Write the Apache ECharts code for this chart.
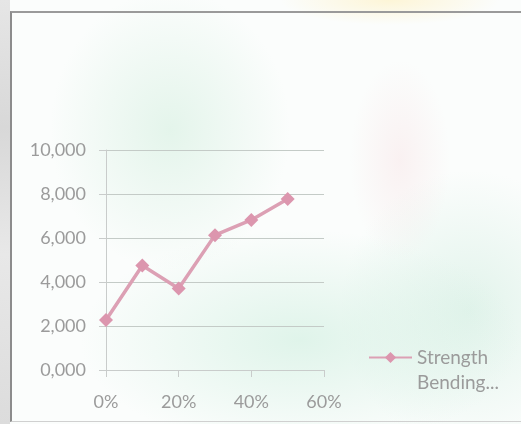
<!DOCTYPE html>
<html>
<head>
<meta charset="utf-8">
<script src="https://cdn.jsdelivr.net/npm/echarts@6/dist/echarts.min.js"></script>
<style>
html,body{margin:0;padding:0;width:521px;height:424px;overflow:hidden;}
body{
  background:
    radial-gradient(ellipse 50px 100px at 400px 160px, rgba(245,205,210,0.25), rgba(255,255,255,0) 100%),
    radial-gradient(ellipse 110px 25px at 390px 0px, rgba(255,240,190,0.6), rgba(255,255,255,0) 100%),
    radial-gradient(ellipse 120px 140px at 170px 130px, rgba(205,236,218,0.5), rgba(255,255,255,0) 100%),
    radial-gradient(ellipse 220px 110px at 300px 340px, rgba(205,238,222,0.6), rgba(255,255,255,0) 100%),
    radial-gradient(ellipse 130px 140px at 470px 310px, rgba(212,238,226,0.65), rgba(255,255,255,0) 100%),
    #fbfdfc;
}
#frame{position:absolute;left:10px;top:11px;width:511px;height:411px;border-left:2px solid #8c8c8c;border-top:2px solid #9a9a9a;border-bottom:1px solid #d0d0d0;box-sizing:border-box;}
#strip{position:absolute;left:0;top:0;width:10px;height:424px;background:linear-gradient(#e6e6e6,#d8d8d8 30%,#e8e8e8 60%,#dcdcdc);}
#chart{position:absolute;left:0;top:0;width:521px;height:424px;}
</style>
</head>
<body>
<div id="strip"></div>
<div id="frame"></div>
<div id="chart"></div>
<script>
var seriesName = 'Strength Bending...';
var legendLines = ['Strength', 'Bending...'];
var xValues = [0, 0.1, 0.2, 0.3, 0.4, 0.5];
var yValues = [2270, 4750, 3700, 6130, 6820, 7770];
var xTicks = [0, 0.2, 0.4, 0.6];
var yTicks = [0, 2000, 4000, 6000, 8000, 10000];

var chart = echarts.init(document.getElementById('chart'), null, {renderer: 'canvas'});
var textColor = '#9b9b9b';
var font = 'Lato';
chart.setOption({
  backgroundColor: 'transparent',
  animation: false,
  grid: {left: 106, right: 197, top: 150, bottom: 54, containLabel: false},
  xAxis: {
    type: 'value', min: xTicks[0], max: xTicks[xTicks.length - 1], interval: 0.2,
    axisLine: {show: true, lineStyle: {color: '#c9cccb', width: 1}},
    axisTick: {show: true, length: 7, lineStyle: {color: '#c9cccb'}},
    splitLine: {show: false},
    axisLabel: {color: textColor, fontFamily: font, fontSize: 18, margin: 23,
      formatter: function (v) { return Math.round(v * 100) + '%'; }}
  },
  yAxis: {
    type: 'value', min: yTicks[0], max: yTicks[yTicks.length - 1], interval: 2000,
    axisLine: {show: true, lineStyle: {color: '#c9cccb', width: 1}},
    axisTick: {show: true, length: 7, lineStyle: {color: '#c9cccb'}},
    splitLine: {show: true, lineStyle: {color: '#c4cbc7', width: 1}},
    axisLabel: {color: textColor, fontFamily: font, fontSize: 18, margin: 20,
      formatter: function (v) { return (v / 1000).toFixed(3).replace('.', ','); }}
  },
  legend: {
    show: true, orient: 'vertical', left: 363, top: 315,
    itemWidth: 43, itemHeight: 14, itemGap: 0,
    formatter: function () { return '\u00a0\n' + legendLines.join('\n'); },
    textStyle: {color: textColor, fontFamily: font, fontSize: 19, lineHeight: 25}
  },
  series: [{
    name: seriesName,
    type: 'line',
    data: xValues.map(function (x, i) { return [x, yValues[i]]; }),
    symbol: 'diamond', symbolSize: 14,
    lineStyle: {color: '#dca0b4', width: 3.5},
    itemStyle: {color: '#dc96ae'}
  }]
});
</script>
</body>
</html>
